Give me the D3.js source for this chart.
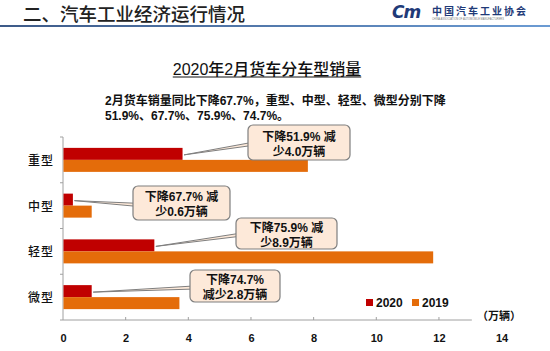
<!DOCTYPE html>
<html>
<head>
<meta charset="utf-8">
<script src="https://cdn.jsdelivr.net/npm/d3@7"></script>
<style>
  body { margin: 0; background: #fff; }
  svg { display: block; }
  text { font-family: "Liberation Sans", Arial, "Noto Sans CJK SC", sans-serif; }
</style>
</head>
<body>
<div id="chart"></div>
<script>
// chart values
const categories = ['重型', '中型', '轻型', '微型'];
const sales2020 = [3.8, 0.3, 2.9, 0.9];
const sales2019 = [7.8, 0.9, 11.8, 3.7];
const xTicks = [0, 2, 4, 6, 8, 10, 12, 14];
const seriesNames = ['2020', '2019'];
const calloutLines = [
  ['下降51.9% 减', '少4.0万辆'],
  ['下降67.7% 减', '少0.6万辆'],
  ['下降75.9% 减', '少8.9万辆'],
  ['下降74.7%', '减少2.8万辆']
];

// callout box placement (layout only)
const boxes = [
  { x: 248, y: 125, w: 102, h: 35 },
  { x: 133, y: 186, w: 97, h: 34 },
  { x: 236, y: 218, w: 101, h: 31 },
  { x: 190, y: 270, w: 90, h: 32 }
];

const W = 550, H = 351;
const colors = { '2020': '#c00000', '2019': '#e46c0a' };

const svg = d3.select('#chart')
  .append('svg')
  .attr('width', W)
  .attr('height', H);

// header
const defs = svg.append('defs');
const grad = defs.append('linearGradient').attr('id', 'hdr');
grad.append('stop').attr('offset', '0%').attr('stop-color', '#3d5a88');
grad.append('stop').attr('offset', '100%').attr('stop-color', '#6b9bd3');

svg.append('text')
  .attr('x', 23).attr('y', 21)
  .style('font-family', '"Noto Sans CJK SC", sans-serif')
  .style('font-size', '18.5px')
  .style('font-weight', 500)
  .attr('fill', '#222')
  .text('二、汽车工业经济运行情况');

svg.append('rect')
  .attr('x', 0).attr('y', 25)
  .attr('width', W).attr('height', 2)
  .attr('fill', 'url(#hdr)');

// logo
svg.append('text')
  .attr('x', 392).attr('y', 18)
  .style('font-family', '"DejaVu Sans", sans-serif')
  .style('font-size', '17px')
  .style('font-weight', 'bold')
  .style('font-style', 'italic')
  .style('letter-spacing', '-1px')
  .attr('fill', '#1f3a78')
  .text('Cm');

svg.append('text')
  .attr('x', 432).attr('y', 15)
  .style('font-family', '"Noto Sans CJK SC", sans-serif')
  .style('font-size', '10px')
  .style('font-weight', 'bold')
  .style('letter-spacing', '2px')
  .attr('fill', '#1f3a78')
  .text('中国汽车工业协会');

svg.append('text')
  .attr('x', 432).attr('y', 20)
  .style('font-size', '2.6px')
  .attr('fill', '#777')
  .text('CHINA ASSOCIATION OF AUTOMOBILE MANUFACTURERS');

// title
const title = svg.append('text')
  .attr('x', 267).attr('y', 75)
  .attr('text-anchor', 'middle')
  .style('font-size', '16px')
  .style('font-weight', 500)
  .attr('fill', '#111')
  .text('2020年2月货车分车型销量');
const tb = title.node().getBBox();
svg.append('line')
  .attr('x1', tb.x).attr('x2', tb.x + tb.width)
  .attr('y1', 77).attr('y2', 77)
  .attr('stroke', '#111').attr('stroke-width', 1);

// subtitle
const sub = svg.append('text')
  .style('font-size', '12px')
  .style('font-weight', 'bold')
  .attr('fill', '#111');
sub.append('tspan').attr('x', 105).attr('y', 105)
  .text('2月货车销量同比下降67.7%，重型、中型、轻型、微型分别下降');
sub.append('tspan').attr('x', 105).attr('y', 120)
  .text('51.9%、67.7%、75.9%、74.7%。');

// scales
const x = d3.scaleLinear().domain([0, 14]).range([63, 501.6]);
const y = d3.scaleBand().domain(categories).range([137, 320]);
const barH = 12;

const axisColor = '#a0a0a0';

// y axis
svg.append('line')
  .attr('x1', x(0)).attr('x2', x(0))
  .attr('y1', y.range()[0]).attr('y2', y.range()[1])
  .attr('stroke', axisColor);
svg.selectAll('.ytick')
  .data(categories.concat(['end']))
  .enter().append('line')
  .attr('x1', x(0) - 3).attr('x2', x(0))
  .attr('y1', (d, i) => y.range()[0] + i * y.step())
  .attr('y2', (d, i) => y.range()[0] + i * y.step())
  .attr('stroke', axisColor);

svg.selectAll('.ylab')
  .data(categories)
  .enter().append('text')
  .attr('x', 28)
  .attr('y', d => y(d) + y.bandwidth() / 2 + 5)
  .style('font-family', '"Noto Sans CJK SC", sans-serif')
  .style('font-size', '12px')
  .style('font-weight', 500)
  .style('letter-spacing', '1px')
  .attr('fill', '#111')
  .text(d => d);

// x axis
const xAxis = d3.axisBottom(x)
  .tickValues(xTicks)
  .tickSize(0)
  .tickPadding(14)
  .tickFormat(d3.format('d'));

const gx = svg.append('g')
  .attr('transform', `translate(0, ${y.range()[1]})`)
  .call(xAxis);
gx.select('.domain').remove();
gx.selectAll('text')
  .style('font-size', '11px')
  .style('font-weight', 'bold')
  .style('font-family', '"Liberation Sans", Arial, sans-serif')
  .attr('fill', '#111');

svg.append('line')
  .attr('x1', x(0)).attr('x2', x(13.05))
  .attr('y1', y.range()[1]).attr('y2', y.range()[1])
  .attr('stroke', axisColor);
svg.selectAll('.xtick')
  .data(xTicks.filter(d => d > 0 && d < 14))
  .enter().append('line')
  .attr('x1', d => x(d)).attr('x2', d => x(d))
  .attr('y1', y.range()[1] - 3).attr('y2', y.range()[1])
  .attr('stroke', axisColor);

svg.append('text')
  .attr('x', 477).attr('y', 320)
  .style('font-size', '11px')
  .style('font-weight', 'bold')
  .style('font-family', '"Noto Sans CJK SC", sans-serif')
  .attr('fill', '#111')
  .text('（万辆）');

// bars
const rows = categories.map((c, i) => ({ cat: c, v2020: sales2020[i], v2019: sales2019[i] }));
const mid = d => y(d.cat) + y.bandwidth() / 2;

svg.selectAll('.bar2020')
  .data(rows)
  .enter().append('rect')
  .attr('x', x(0) + 0.5)
  .attr('y', d => mid(d) - barH)
  .attr('width', d => x(d.v2020) - x(0))
  .attr('height', barH)
  .attr('fill', colors['2020']);

svg.selectAll('.bar2019')
  .data(rows)
  .enter().append('rect')
  .attr('x', x(0) + 0.5)
  .attr('y', d => mid(d))
  .attr('width', d => x(d.v2019) - x(0))
  .attr('height', barH)
  .attr('fill', colors['2019']);

// callouts
const callouts = svg.selectAll('.callout')
  .data(rows)
  .enter().append('g');

callouts.append('path')
  .attr('d', (d, i) => {
    const b = boxes[i];
    const tx = x(d.v2020) + 2, ty = mid(d) - barH / 2 + 1;
    const by = b.y + b.h * 0.55;
    return `M${tx},${ty}L${b.x + 2},${by - 1.5}L${b.x + 2},${by + 1.5}Z`;
  })
  .attr('fill', '#fde9d9')
  .attr('stroke', '#7f7f7f')
  .attr('stroke-width', 1);

callouts.append('rect')
  .attr('x', (d, i) => boxes[i].x)
  .attr('y', (d, i) => boxes[i].y)
  .attr('width', (d, i) => boxes[i].w)
  .attr('height', (d, i) => boxes[i].h)
  .attr('rx', 5)
  .attr('fill', '#fde9d9')
  .attr('stroke', '#7f7f7f')
  .attr('stroke-width', 1.2);

callouts.append('text')
  .attr('text-anchor', 'middle')
  .style('font-size', '12px')
  .style('font-weight', 'bold')
  .attr('fill', '#111')
  .each(function (d, i) {
    const b = boxes[i];
    const t = d3.select(this);
    calloutLines[i].forEach((line, j) => {
      t.append('tspan')
        .attr('x', b.x + b.w / 2)
        .attr('y', b.y + b.h / 2 - 2 + j * 15)
        .text(line);
    });
  });

// legend
const legend = svg.append('g').attr('transform', 'translate(366, 299)');
seriesNames.forEach((name, i) => {
  const g = legend.append('g').attr('transform', `translate(${i * 46}, 0)`);
  g.append('rect')
    .attr('width', 7).attr('height', 7)
    .attr('fill', colors[name]);
  g.append('text')
    .attr('x', 10).attr('y', 8)
    .style('font-size', '12px')
    .style('font-weight', 'bold')
    .attr('fill', '#111')
    .text(name);
});
</script>
</body>
</html>
